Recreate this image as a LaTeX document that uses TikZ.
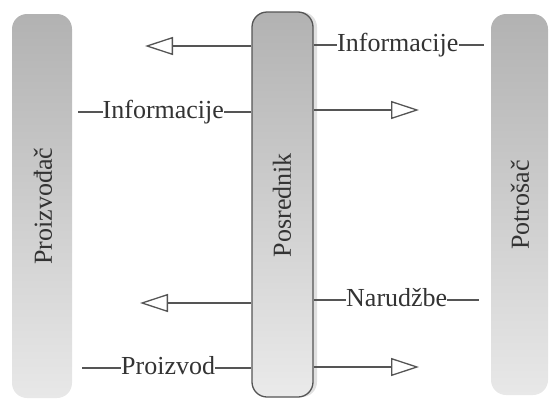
\documentclass[tikz,border=0pt]{standalone}
\usepackage{fontspec}
\setmainfont{Liberation Serif}
\usetikzlibrary{arrows.meta,shadows}
\definecolor{linegray}{RGB}{85,85,85}
\definecolor{bartop}{RGB}{178,178,178}
\definecolor{barbot}{RGB}{232,232,232}
\tikzset{
  sidebar/.style={rounded corners=15pt, top color=bartop, bottom color=barbot, draw=none, inner sep=0pt},
  midbar/.style={rounded corners=15pt, top color=bartop, bottom color=barbot!90!white, draw=linegray, line width=1.3pt, inner sep=0pt,
     drop shadow={shadow xshift=4pt, shadow yshift=0pt, fill=black!12, opacity=1}},
  barlabel/.style={rotate=90, font=\fontsize{26}{30}\selectfont, text=black!80},
  lbl/.style={font=\fontsize{26}{30}\selectfont, text=black!80, inner sep=0pt, anchor=base west},
  conn/.style={draw=linegray, line width=1.3pt},
  flow/.style={conn, -{Triangle[open, length=28pt, width=18pt, line width=1.3pt]}}
}
\begin{document}
\begin{tikzpicture}[x=1pt,y=-1pt]
\useasboundingbox (0,0) rectangle (552,402);
% bars
\node[sidebar, minimum width=60pt, minimum height=384pt] (prod) at (42,206) {};
\node[sidebar, minimum width=57pt, minimum height=381pt] (cons) at (519.5,204.5) {};
\node[midbar, minimum width=61pt, minimum height=385pt] (mid) at (282.5,204.5) {};
\node[barlabel] (prodt) at (43,206) {Proizvođač};
\node[barlabel] (midt) at (282,205) {Posrednik};
\node[barlabel] (const) at (520,205) {Potrošač};
% free ends
\coordinate (a1) at (145,46);
\coordinate (a2) at (419,110);
\coordinate (a3) at (140,303);
\coordinate (a4) at (419,367);
\coordinate (l1) at (78,112);
\coordinate (l2) at (484,45);
\coordinate (l3) at (479,300);
\coordinate (l4) at (82,368);
% arrows
\draw[flow] (mid.west |- a1) -- (a1);
\draw[flow] (mid.east |- a2) -- (a2);
\draw[flow] (mid.west |- a3) -- (a3);
\draw[flow] (mid.east |- a4) -- (a4);
% labelled lines
\node[lbl] (t1) at (102.5,118.6) {Informacije};
\node[lbl] (t2) at (337,51.6) {Informacije};
\node[lbl] (t3) at (346,306.6) {Narudžbe};
\node[lbl] (t4) at (121,374.6) {Proizvod};
\draw[conn] (l1) -- (l1 -| t1.west);
\draw[conn] (l1 -| t1.east) -- (mid.west |- l1);
\draw[conn] (mid.east |- l2) -- (l2 -| t2.west);
\draw[conn] (l2 -| t2.east) -- (l2);
\draw[conn] (mid.east |- l3) -- (l3 -| t3.west);
\draw[conn] (l3 -| t3.east) -- (l3);
\draw[conn] (l4) -- (l4 -| t4.west);
\draw[conn] (l4 -| t4.east) -- (mid.west |- l4);
\end{tikzpicture}
\end{document}
